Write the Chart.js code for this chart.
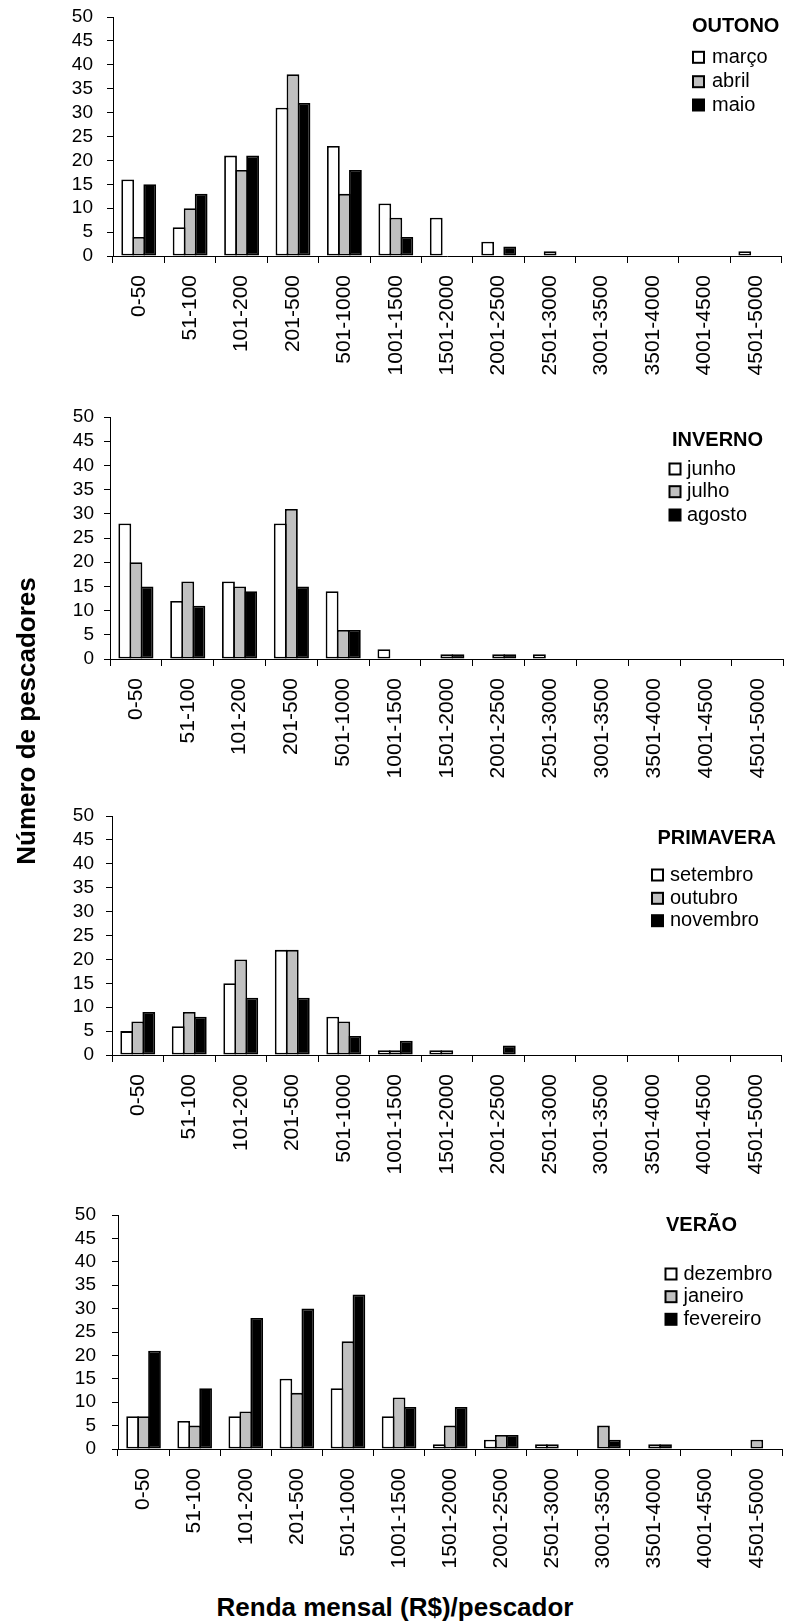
<!DOCTYPE html>
<html>
<head>
<meta charset="utf-8">
<script src="https://cdn.jsdelivr.net/npm/chart.js@4/dist/chart.umd.min.js"></script>
<style>
  html, body { margin:0; padding:0; background:#fff; overflow:hidden; width:788px; height:1623px; position:relative; }
  canvas { position:absolute; left:0; }
  .ttl { position:absolute; font-family:"Liberation Sans", Arial, sans-serif; font-weight:bold; font-size:26px; color:#000; white-space:nowrap; text-align:center; line-height:30px; }
  #ytitle { width:400px; left:-174px; top:706px; transform:rotate(-90deg); }
  #xtitle { width:790px; left:0; top:1592px; }
</style>
</head>
<body>
<canvas id="c1"></canvas>
<canvas id="c2"></canvas>
<canvas id="c3"></canvas>
<canvas id="c4"></canvas>
<div id="ytitle" class="ttl">Número de pescadores</div>
<div id="xtitle" class="ttl">Renda mensal (R$)/pescador</div>
<script>
// ---- DATA ----
const categories = ['0-50','51-100','101-200','201-500','501-1000','1001-1500','1501-2000','2001-2500','2501-3000','3001-3500','3501-4000','4001-4500','4501-5000'];
const yMin = 0, yMax = 50, yStep = 5;

const seasonTitles = ['OUTONO','INVERNO','PRIMAVERA','VERÃO'];

const outonoLabels = ['março','abril','maio'];
const outonoMarco  = [16, 6,21,31,23,11, 8, 3, 0, 0, 0, 0, 1];
const outonoAbril  = [ 4,10,18,38,13, 8, 0, 0, 1, 0, 0, 0, 0];
const outonoMaio   = [15,13,21,32,18, 4, 0, 2, 0, 0, 0, 0, 0];

const invernoLabels = ['junho','julho','agosto'];
const invernoJunho  = [28,12,16,28,14, 2, 0, 0, 1, 0, 0, 0, 0];
const invernoJulho  = [20,16,15,31, 6, 0, 1, 1, 0, 0, 0, 0, 0];
const invernoAgosto = [15,11,14,15, 6, 0, 1, 1, 0, 0, 0, 0, 0];

const primaveraLabels   = ['setembro','outubro','novembro'];
const primaveraSetembro = [ 5, 6,15,22, 8, 1, 1, 0, 0, 0, 0, 0, 0];
const primaveraOutubro  = [ 7, 9,20,22, 7, 1, 1, 0, 0, 0, 0, 0, 0];
const primaveraNovembro = [ 9, 8,12,12, 4, 3, 0, 2, 0, 0, 0, 0, 0];

const veraoLabels    = ['dezembro','janeiro','fevereiro'];
const veraoDezembro  = [ 7, 6, 7,15,13, 7, 1, 2, 1, 0, 0, 0, 0];
const veraoJaneiro   = [ 7, 5, 8,12,23,11, 5, 3, 1, 5, 1, 0, 2];
const veraoFevereiro = [21,13,28,30,33, 9, 9, 3, 0, 2, 1, 0, 0];

// ---- STYLE / LAYOUT ----
const fills = ['#ffffff', '#c0c0c0', '#000000'];
const FONT = '"Liberation Sans", Arial, sans-serif';
const PADTOP = 40, XAXIS_H = 130;

// plotTop / plotBottom / left / right are page pixel positions of the plot frame
const panels = [
  { id:'c1', plotTop:17,  plotBottom:256, left:113, right:793, yPad:14,
    title:seasonTitles[0], labels:outonoLabels, series:[outonoMarco,outonoAbril,outonoMaio],
    leg:{ titleX:692, titleY:26.7, boxX:692, textX:712, itemY:[57.3,81.7,105] } },
  { id:'c2', plotTop:417, plotBottom:659, left:110, right:795, yPad:10,
    title:seasonTitles[1], labels:invernoLabels, series:[invernoJunho,invernoJulho,invernoAgosto],
    leg:{ titleX:672, titleY:440, boxX:668.5, textX:687, itemY:[469,491.7,515] } },
  { id:'c3', plotTop:816, plotBottom:1055, left:112, right:793, yPad:12,
    title:seasonTitles[2], labels:primaveraLabels, series:[primaveraSetembro,primaveraOutubro,primaveraNovembro],
    leg:{ titleX:657.5, titleY:838.8, boxX:651, textX:670, itemY:[875,898.3,920.7] } },
  { id:'c4', plotTop:1215, plotBottom:1449, left:118, right:794, yPad:16,
    title:seasonTitles[3], labels:veraoLabels, series:[veraoDezembro,veraoJaneiro,veraoFevereiro],
    leg:{ titleX:666, titleY:1225.8, boxX:664.5, textX:683.5, itemY:[1274,1296.7,1319.3] } }
];

const seasonLegend = {
  id: 'seasonLegend',
  afterDraw(chart, args, opts) {
    const ctx = chart.ctx;
    const oy = opts.offsetY;
    ctx.save();
    ctx.textAlign = 'left';
    ctx.textBaseline = 'middle';
    ctx.fillStyle = '#000';
    ctx.font = 'bold 20px ' + FONT;
    ctx.fillText(opts.title, opts.titleX, opts.titleY - oy);
    ctx.font = '20px ' + FONT;
    chart.data.datasets.forEach((ds, i) => {
      const y = opts.itemY[i] - oy;
      const s = 13;
      ctx.fillStyle = '#000';
      ctx.fillRect(opts.boxX, y - s/2, s, s);
      ctx.fillStyle = ds.backgroundColor;
      ctx.fillRect(opts.boxX + 2, y - s/2 + 2, s - 4, s - 4);
      ctx.fillStyle = '#000';
      ctx.fillText(ds.label, opts.textX, y);
    });
    ctx.restore();
  }
};

panels.forEach(p => {
  const cv = document.getElementById(p.id);
  const top = p.plotTop - PADTOP;
  const height = p.plotBottom - top + XAXIS_H;
  cv.width = p.right; cv.height = height;
  cv.style.width = p.right + 'px'; cv.style.height = height + 'px';
  cv.style.top = top + 'px';
  new Chart(cv, {
    type: 'bar',
    data: {
      labels: categories,
      datasets: p.series.map((d, i) => ({
        label: p.labels[i],
        data: d,
        backgroundColor: fills[i],
        borderColor: '#000',
        borderWidth: 1.8,
        borderSkipped: false,
        categoryPercentage: 0.643,
        barPercentage: 1.16
      }))
    },
    options: {
      responsive: false,
      devicePixelRatio: 1,
      animation: false,
      layout: { padding: { top: PADTOP, left: 0, right: 0, bottom: 0 } },
      plugins: {
        legend: { display: false },
        tooltip: { enabled: false },
        title: { display: false },
        seasonLegend: Object.assign({ title: p.title, offsetY: top }, p.leg)
      },
      scales: {
        x: {
          grid: { display: true, drawOnChartArea: false, drawTicks: true, tickLength: 7, color: '#000', lineWidth: 1, offset: true },
          border: { display: true, color: '#000', width: 1 },
          ticks: { autoSkip: false, maxRotation: 90, minRotation: 90, padding: 12, color: '#000', font: { family: FONT, size: 21 } },
          afterFit: s => { s.height = XAXIS_H; }
        },
        y: {
          min: yMin, max: yMax,
          grid: { display: true, drawOnChartArea: false, drawTicks: true, tickLength: 6, color: '#000', lineWidth: 1 },
          border: { display: true, color: '#000', width: 1 },
          ticks: { stepSize: yStep, autoSkip: false, padding: p.yPad, color: '#000', font: { family: FONT, size: 19 } },
          afterFit: s => { s.width = p.left; }
        }
      }
    },
    plugins: [seasonLegend]
  });
});
</script>
</body>
</html>
